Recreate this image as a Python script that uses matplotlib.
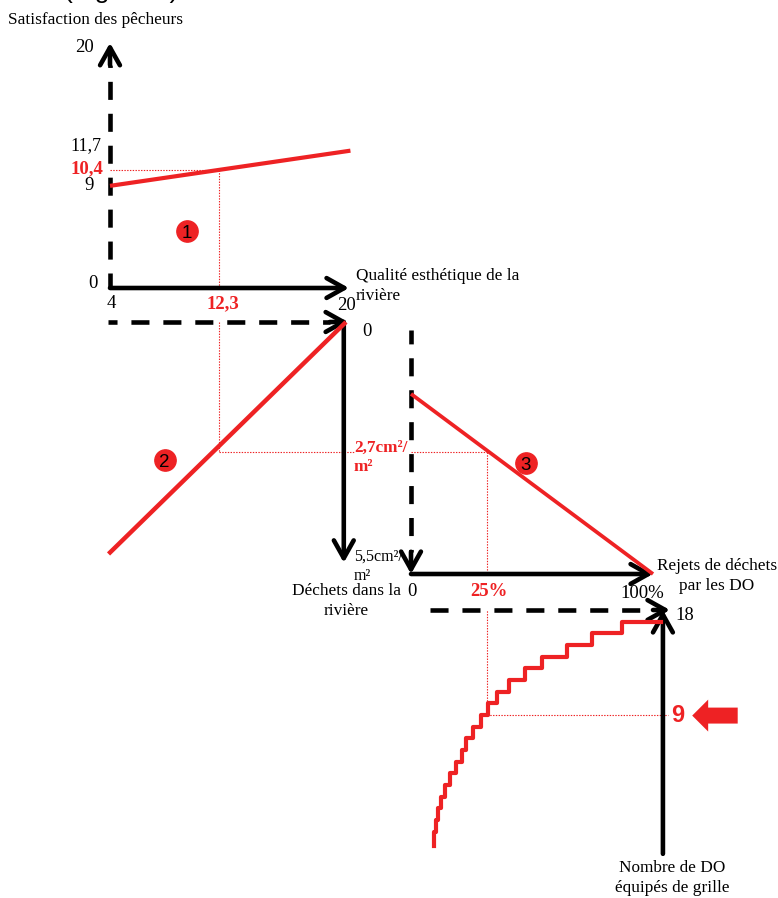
"""Four-quadrant diagram linking fishermen satisfaction to grids on the DO."""

import matplotlib

matplotlib.use("Agg")
import matplotlib.pyplot as plt

W, H = 778, 898
RED = "#ee2224"
SERIF = "Liberation Serif"
SANS = "Liberation Sans"
DASH_ON, DASH_OFF = 13.0, 10.0

plt.rcParams["lines.scale_dashes"] = False

# panel 1: satisfaction against aesthetic quality
quality = [4.0, 20.3]
satisfaction = [9.0, 12.1]
quality_read = 11.4
satisfaction_read = 10.4

# panel 2: aesthetic quality against waste in the river
quality_2 = [3.9, 20.0]
waste_2 = [5.25, 0.0]
waste_read = 2.95

# panel 3: waste in the river against DO discharges
discharge = [0, 100]
waste_3 = [1.44, 5.5]
discharge_read = 31.4

# panel 4: DO with a grid against discharges
steps_discharge = [9.6, 10.3, 11.3, 12.5, 14.2, 16.3, 18.5, 20.9, 22.9, 25.8,
                   28.8, 31.7, 35.4, 40.5, 47.1, 54.0, 64.3, 74.9, 87.1, 103.2]
steps_grids = [-2.2, -1, 0, 1, 2, 3, 4, 5, 6, 7, 8, 9, 10, 11, 12, 13, 14, 15, 16, 17]
grids_read = 9


def panel(fig, left, top, right, bottom, xlim, ylim):
    ax = fig.add_axes([left / W, 1 - bottom / H, (right - left) / W, (bottom - top) / H])
    ax.set_xlim(*xlim)
    ax.set_ylim(*ylim)
    ax.axis("off")
    return ax


def arrow(ax, start, end, head=None, phase=None):
    # dashed axes stop at head and leave a short solid run under the open head
    if head is not None:
        ax.plot([start[0], head[0]], [start[1], head[1]], color="black", lw=3.3,
                ls=(phase, (DASH_ON, DASH_OFF)), dash_capstyle="butt", clip_on=False)
        start = head
    ax.annotate("", xy=end, xytext=start, annotation_clip=False,
                arrowprops=dict(arrowstyle="->,head_length=0.75,head_width=0.42", color="black",
                                lw=3.3, shrinkA=0, shrinkB=0, mutation_scale=17))


def guide(ax, xs, ys):
    ax.plot(xs, ys, color=RED, lw=0.8, ls=(0, (1, 1)), clip_on=False)


def marker(ax, x, y, number):
    ax.scatter([x], [y], s=235, color=RED, zorder=5, clip_on=False)
    ax.text(x, y, number, family=SANS, fontsize=13.5, ha="center", va="center_baseline", zorder=6)


def label(fig, x, y, text, size=12.4, color="black", weight="normal", ha="center", family=SERIF):
    fig.text(x / W, 1 - y / H, text, family=family, fontsize=size, color=color,
             fontweight=weight, ha=ha, va="center", linespacing=1.27)


fig = plt.figure(figsize=(W / 100, H / 100), dpi=100, facecolor="white")

ax1 = panel(fig, 110, 61, 346, 288, (4, 20), (0, 20))
ax2 = panel(fig, 110, 322, 346, 565, (4, 20), (5.5, 0))
ax3 = panel(fig, 411, 330, 653, 574, (0, 100), (5.5, 0))
ax4 = panel(fig, 411, 610, 653, 820, (0, 100), (0, 18))

arrow(ax1, (4, 0), (4, 21.6), head=(4, 19.65), phase=DASH_ON - 10.8)
arrow(ax1, (4, 0), (20.2, 0))
ax1.plot(quality, satisfaction, color=RED, lw=3.0, solid_capstyle="butt", zorder=4, clip_on=False)
guide(ax1, [4, quality_read], [satisfaction_read, satisfaction_read])
guide(ax1, [quality_read, quality_read], [0, satisfaction_read])
marker(ax1, 9.2, 5.0, "1")

arrow(ax2, (3.85, 0), (20.14, 0), head=(18.9, 0), phase=6.5)
arrow(ax2, (19.85, 0), (19.85, 5.45))
ax2.plot(quality_2, waste_2, color=RED, lw=3.2, solid_capstyle="butt", zorder=4, clip_on=False)
guide(ax2, [quality_read, quality_read], [0, waste_read])
guide(ax2, [quality_read, 20.6], [waste_read, waste_read])
marker(ax2, 7.7, 3.13, "2")

arrow(ax3, (0, 0), (0, 5.5), head=(0, 5.0), phase=3.0)
arrow(ax3, (0, 5.5), (100, 5.5))
ax3.plot(discharge, waste_3, color=RED, lw=2.7, solid_capstyle="butt", zorder=4, clip_on=False)
guide(ax3, [discharge_read, discharge_read], [2.75, 5.5])
guide(ax3, [0, discharge_read], [2.75, 2.75])
marker(ax3, 47.5, 3.0, "3")

arrow(ax4, (7.85, 18), (107, 18), head=(100, 18), phase=0)
arrow(ax4, (104.1, -2.9), (104.1, 18))
ax4.step(steps_discharge, steps_grids, where="pre", color=RED, lw=3.0, clip_on=False, zorder=4)
guide(ax4, [discharge_read, discharge_read], [grids_read, 18])
guide(ax4, [discharge_read, 106], [grids_read, grids_read])
ax4.annotate("", xy=(116.2, 8.95), xytext=(135, 8.95), annotation_clip=False,
             arrowprops=dict(arrowstyle="simple,head_length=11.5,head_width=23,tail_width=11.5",
                             color=RED, lw=0, shrinkA=0, shrinkB=0, mutation_scale=1))

label(fig, 121, -9, "(Figure 6)", size=19, family=SANS)
label(fig, 95, 20, "Satisfaction des pêcheurs")
label(fig, 85, 48, "20", size=13.5)
label(fig, 86, 146, "11,7", size=13)
label(fig, 87, 169, "10,4", size=13.5, color=RED, weight="bold")
label(fig, 89, 186, "9", size=13.5)
label(fig, 93, 283, "0", size=13.5)
label(fig, 111, 304, "4", size=13.5)
label(fig, 223, 304, "12,3", size=13.5, color=RED, weight="bold")
label(fig, 356, 286, "Qualité esthétique de la\nrivière", ha="left")
label(fig, 347, 306, "20", size=13.5)
label(fig, 367, 332, "0", size=13.5)
label(fig, 354, 457, "2,7cm²/\nm²", color=RED, weight="bold", ha="left")
label(fig, 354, 566, "5,5cm²/\nm²", size=11.5, ha="left")
label(fig, 346, 601, "Déchets dans la\nrivière")
label(fig, 412, 592, "0", size=13.5)
label(fig, 489, 592, "25%", size=13.5, color=RED, weight="bold")
label(fig, 642, 593, "100%", size=13.5)
label(fig, 717, 576, "Rejets de déchets\npar les DO")
label(fig, 685, 615, "18", size=13.5)
label(fig, 678, 716, "9", size=17, color=RED, weight="bold", family=SANS)
label(fig, 672, 878, "Nombre de DO\néquipés de grille")

fig.savefig("out.png", dpi=100, facecolor="white")
